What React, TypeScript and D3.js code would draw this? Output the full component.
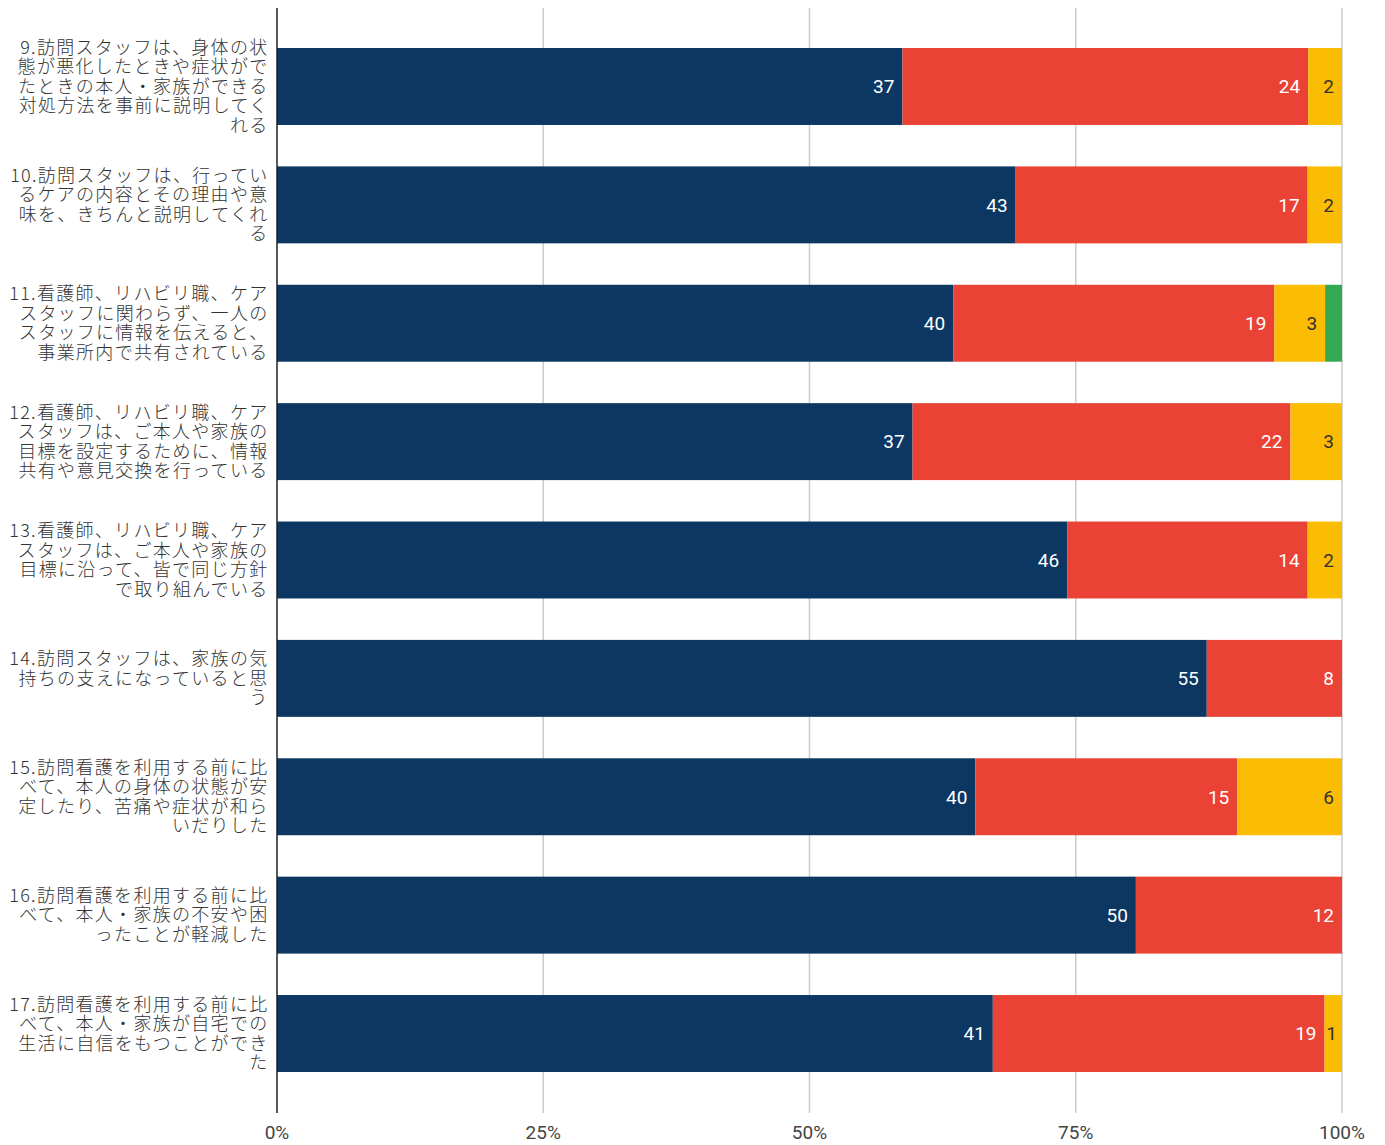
import React, { useEffect, useRef } from "react";
import * as d3 from "d3";

const categories = [
  ["9.訪問スタッフは、身体の状", "態が悪化したときや症状がで", "たときの本人・家族ができる", "対処方法を事前に説明してく", "れる"],
  ["10.訪問スタッフは、行ってい", "るケアの内容とその理由や意", "味を、きちんと説明してくれ", "る"],
  ["11.看護師、リハビリ職、ケア", "スタッフに関わらず、一人の", "スタッフに情報を伝えると、", "事業所内で共有されている"],
  ["12.看護師、リハビリ職、ケア", "スタッフは、ご本人や家族の", "目標を設定するために、情報", "共有や意見交換を行っている"],
  ["13.看護師、リハビリ職、ケア", "スタッフは、ご本人や家族の", "目標に沿って、皆で同じ方針", "で取り組んでいる"],
  ["14.訪問スタッフは、家族の気", "持ちの支えになっていると思", "う"],
  ["15.訪問看護を利用する前に比", "べて、本人の身体の状態が安", "定したり、苦痛や症状が和ら", "いだりした"],
  ["16.訪問看護を利用する前に比", "べて、本人・家族の不安や困", "ったことが軽減した"],
  ["17.訪問看護を利用する前に比", "べて、本人・家族が自宅での", "生活に自信をもつことができ", "た"],
];

const seriesA = [37, 43, 40, 37, 46, 55, 40, 50, 41];
const seriesB = [24, 17, 19, 22, 14, 8, 15, 12, 19];
const seriesC = [2, 2, 3, 3, 2, 0, 6, 0, 1];
const seriesD = [0, 0, 1, 0, 0, 0, 0, 0, 0];

const colors = ["#0b3762", "#ea4335", "#fbbc04", "#34a853"];
const labelColors = ["#ffffff", "#ffffff", "#333333", "#333333"];
const tickLabels = ["0%", "25%", "50%", "75%", "100%"];

export default function App() {
  const svgRef = useRef<SVGSVGElement>(null);

  useEffect(() => {
    if (!svgRef.current) return;
    const width = 1369;
    const height = 1137;
    const marginLeft = 269;
    const plotRight = 1334;

    const svg = d3.select(svgRef.current);
    svg.selectAll("*").remove();
    svg.attr("width", width).attr("height", height);

    const keys = ["a", "b", "c", "d"];
    const rows = categories.map((c, i) => ({
      idx: String(i),
      a: seriesA[i],
      b: seriesB[i],
      c: seriesC[i],
      d: seriesD[i],
    }));

    const stacked = d3
      .stack<any>()
      .keys(keys)
      .offset(d3.stackOffsetExpand)(rows);

    const x = d3.scaleLinear().domain([0, 1]).range([marginLeft, plotRight]);
    const y = d3
      .scaleBand()
      .domain(rows.map((r) => r.idx))
      .range([19.3, 1084.7])
      .paddingInner(0.35)
      .paddingOuter(0.175);

    // grid
    svg
      .append("g")
      .selectAll("line")
      .data([0.25, 0.5, 0.75, 1])
      .join("line")
      .attr("x1", (d) => x(d))
      .attr("x2", (d) => x(d))
      .attr("y1", -3)
      .attr("y2", 1105)
      .attr("stroke", "#cccccc")
      .attr("stroke-width", 1.5);

    // bars
    stacked.forEach((layer, li) => {
      const g = svg.append("g").attr("fill", colors[li]);
      g.selectAll("rect")
        .data(layer)
        .join("rect")
        .attr("x", (d) => x(d[0]))
        .attr("y", (d: any) => y(d.data.idx)!)
        .attr("width", (d) => Math.max(0, x(d[1]) - x(d[0])))
        .attr("height", y.bandwidth());

      const narrow = (d: any) => x(d[1]) - x(d[0]) < 24;
      svg
        .append("g")
        .selectAll("text")
        .data(layer.filter((d) => x(d[1]) - x(d[0]) > 17))
        .join("text")
        .attr("x", (d) => (narrow(d) ? x(d[1]) - 5 : x(d[1]) - 8))
        .attr("y", (d: any) => y(d.data.idx)! + y.bandwidth() / 2)
        .attr("dy", "0.36em")
        .attr("text-anchor", "end")
        .attr("fill", labelColors[li])
        .style("font-family", "Roboto, 'Noto Sans', sans-serif")
        .style("font-size", "19px")
        .text((d: any) => d.data[keys[li]]);
    });

    // axis line
    svg
      .append("line")
      .attr("x1", x(0))
      .attr("x2", x(0))
      .attr("y1", -3)
      .attr("y2", 1105)
      .attr("stroke", "#222")
      .attr("stroke-width", 1.5);

    // tick labels
    svg
      .append("g")
      .selectAll("text")
      .data(tickLabels)
      .join("text")
      .attr("x", (d, i) => x(i / 4))
      .attr("y", 1131)
      .attr("text-anchor", "middle")
      .attr("fill", "#444")
      .style("font-family", "Roboto, 'Noto Sans', sans-serif")
      .style("font-size", "19px")
      .text((d) => d);

    // category labels
    const lineH = 19.5;
    const lab = svg.append("g");
    categories.forEach((lines, i) => {
      const cy = y(String(i))! + y.bandwidth() / 2;
      const t = lab
        .append("text")
        .attr("text-anchor", "end")
        .attr("fill", "#333")
        .style("font-family", "'Noto Sans CJK JP', sans-serif")
        .style("font-size", "18px")
        .style("font-weight", 300)
        .style("letter-spacing", "1.3px");
      lines.forEach((l, j) => {
        t.append("tspan")
          .attr("x", 260.5)
          .attr("y", cy + (j - (lines.length - 1) / 2) * lineH)
          .attr("dy", "0.35em")
          .text(l);
      });
    });
  }, []);

  return (
    <div>
      <svg ref={svgRef}></svg>
    </div>
  );
}
